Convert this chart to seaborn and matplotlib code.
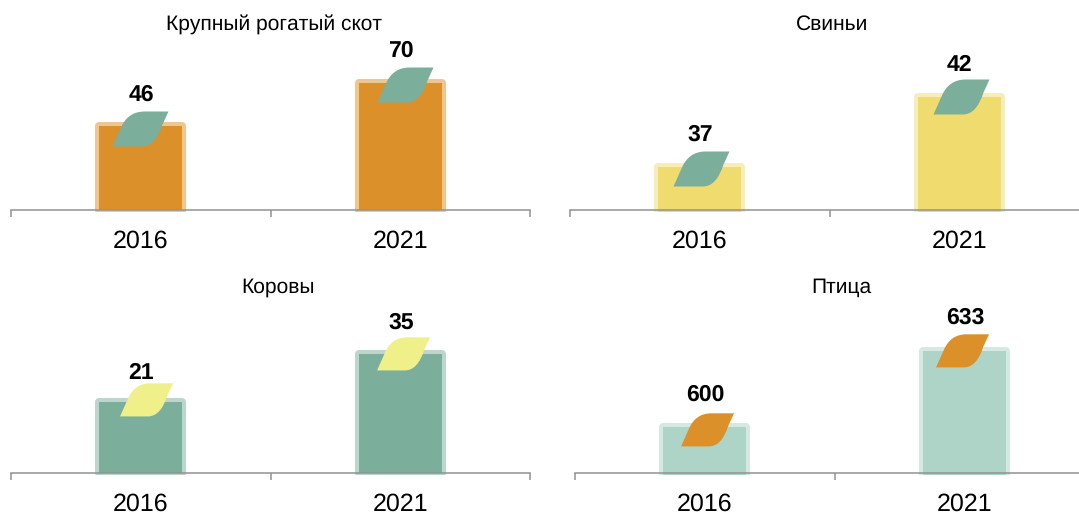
import matplotlib

matplotlib.use("Agg")
import matplotlib.pyplot as plt
from matplotlib.path import Path
import seaborn as sns

years = ["2016", "2021"]
titles = ["Крупный рогатый скот", "Свиньи", "Коровы", "Птица"]
cattle = [46, 70]
pigs = [37, 42]
cows = [21, 35]
poultry = [600, 633]

W, H = 1079, 515
ORANGE = "#DC9029"
GREEN = "#7BAF9C"
YELLOW = "#F0DC6E"
PALE = "#ADD4C7"
LIME = "#EFF08A"

# values, bar, leaf, axis left px, baseline px, px per unit, y of baseline, title centre px
panels = [
    (cattle, ORANGE, GREEN, 11, 210, 1.82, 0, 274),
    (pigs, YELLOW, GREEN, 570, 210, 14.0, 33.93, 832),
    (cows, GREEN, LIME, 11, 473, 3.4, 0, 278),
    (poultry, PALE, ORANGE, 575, 473, 2.3, 580, 841),
]

# hand placement in px: leaf dx, leaf dy, leaf size, label dy
leaf_dx = [[0, 6], [2, 3], [6, 4], [3, -1]]
leaf_dy = [[0, 1], [1, 3], [5, 3], [0, 3]]
leaf_s = [1744, 1744, 1560, 1560]
label_dy = [[2, 2], [3, 3], [-1, 2], [3, 4]]

leaf = Path(
    [(-29, -20), (-21, -2), (-14, 15), (3, 15), (27, 15), (21, 2), (14, -20), (0.5, -20), (-29, -20)],
    [Path.MOVETO, Path.LINETO, Path.CURVE3, Path.CURVE3, Path.LINETO, Path.LINETO, Path.CURVE3, Path.CURVE3, Path.LINETO],
)

sns.set_theme(style="white")
plt.rcParams["font.family"] = ["Liberation Sans", "DejaVu Sans"]
plt.rcParams["text.hinting"] = "none"
plt.rcParams["text.hinting_factor"] = 1

fig = plt.figure(figsize=(W / 100, H / 100), dpi=100)

for n, (vals, bar_c, leaf_c, left, base, ppu, zero, tx) in enumerate(panels):
    ax = fig.add_axes([left / W, (H - base - 2) / H, 519 / W, 190 / H])
    ax.patch.set_alpha(0)

    # pale rim first, solid bar on top of it
    sns.barplot(x=years, y=vals, color=bar_c, saturation=1, width=0.32, ax=ax,
                alpha=0.5, linewidth=5.8, edgecolor=bar_c)
    for p in ax.patches:
        p.set_joinstyle("round")
    sns.barplot(x=years, y=vals, color=bar_c, saturation=1, width=0.32, ax=ax, linewidth=0)

    for i, v in enumerate(vals):
        ax.scatter(i + leaf_dx[n][i] / 259.5, v + leaf_dy[n][i] / ppu, marker=leaf, s=leaf_s[n],
                   color=leaf_c, linewidths=0, zorder=5, clip_on=False)
        ax.annotate(str(v), (i, v), xytext=(0.5, 16.8 + label_dy[n][i] * 0.72), textcoords="offset points",
                    ha="center", va="baseline", fontsize=16.4, fontweight="bold", color="black",
                    annotation_clip=False, zorder=6)

    ax.set_xlim(-0.5, 1.5)
    ax.set_ylim(zero - 2 / ppu, zero + 188 / ppu)
    ax.set_xlabel("")
    ax.set_ylabel("")
    ax.set_yticks([])
    for s in ["left", "right", "top"]:
        ax.spines[s].set_visible(False)
    ax.spines["bottom"].set_position(("data", zero))
    ax.spines["bottom"].set_color("#929292")
    ax.spines["bottom"].set_linewidth(1.1)
    ax.spines["bottom"].set_zorder(7)
    ax.set_xticks([0, 1], years)
    ax.set_xticks([-0.5, 0.5, 1.5], minor=True)
    ax.tick_params(axis="x", which="major", length=0, pad=14.5, labelsize=17.8, labelcolor="black")
    ax.tick_params(axis="x", which="minor", length=5, width=1.1, color="#929292", bottom=True)

    fig.text(tx / W, 1 - (base - 186) / H, titles[n], ha="center", va="center", fontsize=15, color="black")

fig.savefig("out.png", dpi=100)
plt.close(fig)
